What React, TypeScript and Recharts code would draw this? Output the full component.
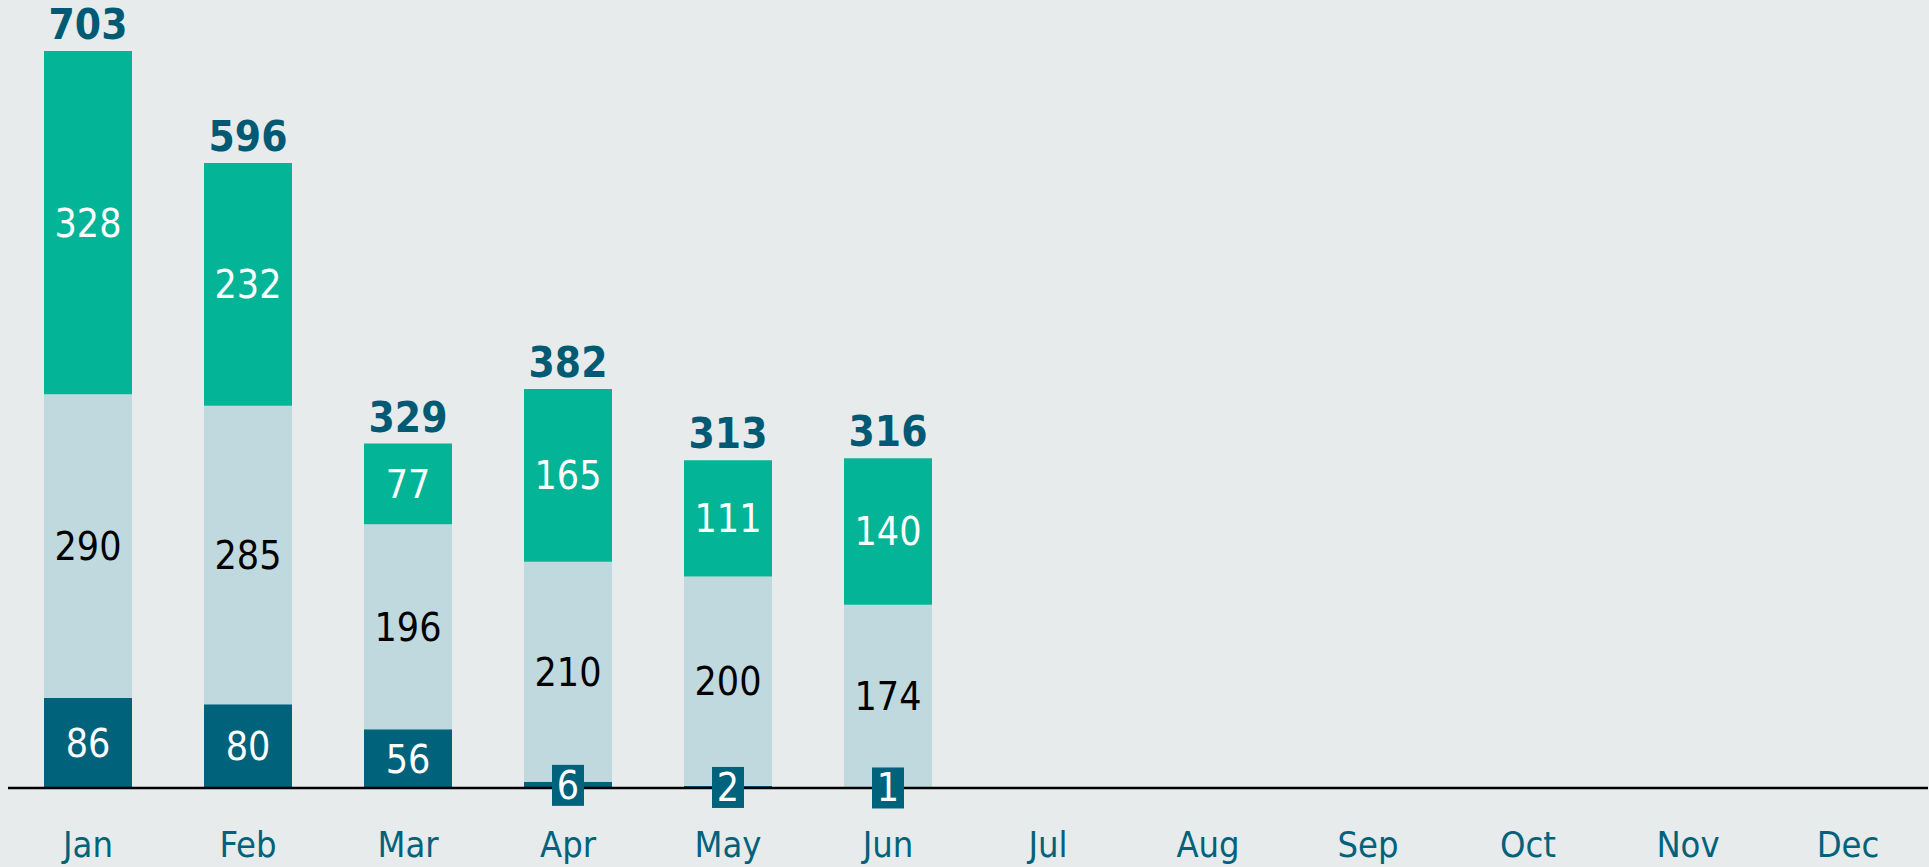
import React from 'react';
import { BarChart, Bar, XAxis, YAxis, LabelList } from 'recharts';

const MONTHS = ['Jan', 'Feb', 'Mar', 'Apr', 'May', 'Jun', 'Jul', 'Aug', 'Sep', 'Oct', 'Nov', 'Dec'];
const BOTTOM = [86, 80, 56, 6, 2, 1, null, null, null, null, null, null];
const MIDDLE = [290, 285, 196, 210, 200, 174, null, null, null, null, null, null];
const TOP = [328, 232, 77, 165, 111, 140, null, null, null, null, null, null];
const TOTALS = [703, 596, 329, 382, 313, 316, null, null, null, null, null, null];

const DARK = '#00627b';
const LIGHT = '#bfd9de';
const TEAL = '#03b496';
const BG = '#e7ebec';
const FONT = "'DejaVu Sans Condensed', 'Noto Sans', sans-serif";

const data = MONTHS.map((m, i) => ({
  month: m,
  bottom: BOTTOM[i],
  middle: MIDDLE[i],
  top: TOP[i],
  total: TOTALS[i],
}));

const segmentLabel = (color: string, boxed: boolean) => (props: any) => {
  const { x, y, width, height, value } = props;
  if (value == null || value === 0) return null;
  const cx = x + width / 2;
  const cy = y + height / 2;
  const text = String(value);
  const bw = 10 + text.length * 22;
  return (
    <g>
      {boxed && <rect x={cx - bw / 2} y={cy - 20} width={bw} height={41} fill={DARK} />}
      <text x={cx} y={cy + 14} textAnchor="middle" fill={color} fontSize={39} fontFamily={FONT}>
        {text}
      </text>
    </g>
  );
};

// totals sit above the stack, read from their own list
const totalLabel = (props: any) => {
  const { x, y, width, index } = props;
  const t = TOTALS[index];
  if (t == null) return null;
  return (
    <text x={x + width / 2} y={y - 12} textAnchor="middle" fill="#005a73" fontSize={42} fontWeight="bold" fontFamily={FONT}>
      {t}
    </text>
  );
};

const MonthTick = (props: any) => {
  const { x, y, payload } = props;
  return (
    <text x={x} y={y + 69} textAnchor="middle" fill={DARK} fontSize={36} fontFamily={FONT}>
      {payload.value}
    </text>
  );
};

export default function App() {
  return (
    <div style={{ position: 'absolute', left: 0, top: 0, width: 1929, height: 867, background: BG }}>
      <BarChart width={1929} height={867} data={data} margin={{ top: 8, right: 1, bottom: 0, left: 8 }}>
        <YAxis hide domain={[0, 745]} />
        <XAxis
          dataKey="month"
          height={79}
          tickLine={false}
          tickSize={0}
          tickMargin={0}
          axisLine={{ stroke: '#000', strokeWidth: 2.5 }}
          tick={<MonthTick />}
          interval={0}
        />
        <Bar dataKey="bottom" stackId="a" fill={DARK} barSize={88} isAnimationActive={false}>
          <LabelList dataKey="bottom" content={segmentLabel('#fff', true)} />
        </Bar>
        <Bar dataKey="middle" stackId="a" fill={LIGHT} barSize={88} isAnimationActive={false}>
          <LabelList dataKey="middle" content={segmentLabel('#000', false)} />
        </Bar>
        <Bar dataKey="top" stackId="a" fill={TEAL} barSize={88} isAnimationActive={false}>
          <LabelList dataKey="top" content={segmentLabel('#fff', false)} />
          <LabelList dataKey="total" content={totalLabel} />
        </Bar>
      </BarChart>
    </div>
  );
}
